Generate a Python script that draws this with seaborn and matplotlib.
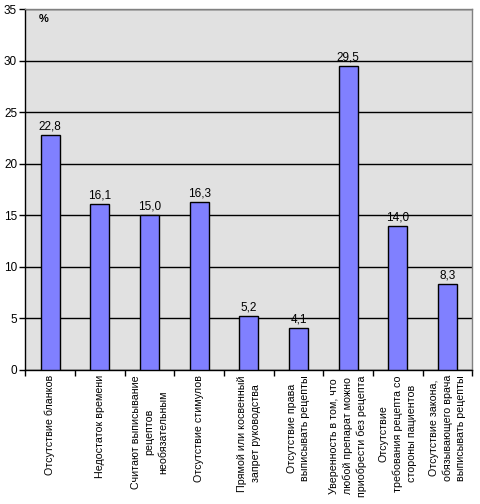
import matplotlib
matplotlib.use("Agg")
import matplotlib.pyplot as plt
import seaborn as sns
import pandas as pd

categories = [
    "Отсутствие бланков",
    "Недостаток времени",
    "Считают выписывание\nрецептов\nнеобязательным",
    "Отсутствие стимулов",
    "Прямой или косвенный\nзапрет руководства",
    "Отсутствие права\nвыписывать рецепты",
    "Уверенность в том, что\nлюбой препарат можно\nприобрести без рецепта",
    "Отсутствие\nтребования рецепта со\nстороны пациентов",
    "Отсутствие закона,\nобязывающего врача\nвыписывать рецепты",
]
values = [22.8, 16.1, 15.0, 16.3, 5.2, 4.1, 29.5, 14.0, 8.3]
value_labels = ["22,8", "16,1", "15,0", "16,3", "5,2", "4,1", "29,5", "14,0", "8,3"]
y_ticks = [0, 5, 10, 15, 20, 25, 30, 35]

df = pd.DataFrame({"cat": categories, "val": values})

sns.set_style("white")
plt.rcParams["font.family"] = ["Liberation Sans", "DejaVu Sans"]
plt.rcParams["text.color"] = "black"
plt.rcParams["xtick.color"] = "black"
plt.rcParams["ytick.color"] = "black"

fig = plt.figure(figsize=(4.8, 5.04), dpi=100)
ax = fig.add_axes([0.053, 0.266, 0.931, 0.716])
ax.set_facecolor("#e1e1e1")

sns.barplot(data=df, x="cat", y="val", color="#8080ff", saturation=1,
            edgecolor="black", linewidth=1.0, width=0.38, ax=ax, zorder=3)

ax.set_xlim(-0.5, len(categories) - 0.5)
ax.set_ylim(0, 35)
ax.set_yticks(y_ticks)
ax.set_yticklabels([str(t) for t in y_ticks], fontsize=8.5, color="black")
ax.yaxis.grid(True, color="black", linewidth=1.0, zorder=0)
ax.set_axisbelow(True)
ax.tick_params(axis="y", direction="out", length=4, width=1, color="black", pad=2, left=True)

# category ticks at boundaries
ax.set_xticks([i - 0.5 for i in range(len(categories) + 1)])
ax.set_xticklabels([])
ax.tick_params(axis="x", direction="out", length=4, width=1, color="black", bottom=True)
for i, c in enumerate(categories):
    ax.text(i, -0.5, c, rotation=90, ha="center", va="top", multialignment="center",
            fontsize=7.7, linespacing=1.45, color="black")

for i, (v, lab) in enumerate(zip(values, value_labels)):
    ax.text(i, v + 0.25, lab, ha="center", va="bottom", fontsize=8.5, color="black")

ax.text(0.03, 0.985, "%", transform=ax.transAxes, fontsize=8, ha="left", va="top",
        color="black", fontweight="bold")

for side in ["top", "right"]:
    ax.spines[side].set_color("#808080")
for side in ["left", "bottom"]:
    ax.spines[side].set_color("black")
for s in ax.spines.values():
    s.set_linewidth(1.0)
    s.set_visible(True)

ax.set_xlabel("")
ax.set_ylabel("")

fig.savefig("out.png", dpi=100)
